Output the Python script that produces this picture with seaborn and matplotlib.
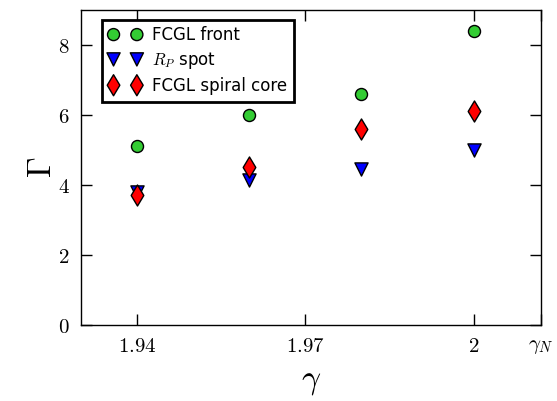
import matplotlib
matplotlib.use("Agg")
import matplotlib.pyplot as plt
import pandas as pd
import seaborn as sns

gamma = [1.94, 1.96, 1.98, 2.00]
front = [5.1, 6.0, 6.6, 8.4]
rp_spot = [3.8, 4.15, 4.45, 5.0]
spiral_core = [3.7, 4.5, 5.6, 6.1]
xtick_pos = [1.94, 1.97, 2.00, 2.012]
xtick_labels = [r"$1.94$", r"$1.97$", r"$2$", r"$\gamma_N$"]
ytick_pos = [0, 2, 4, 6, 8]

sns.set_style("white")
plt.rcParams["font.family"] = ["DejaVu Sans"]
plt.rcParams["mathtext.fontset"] = "cm"
plt.rcParams["text.color"] = "black"
plt.rcParams["axes.labelcolor"] = "black"

fig = plt.figure(figsize=(5.57, 4.01), dpi=100)
ax = fig.add_axes([0.145, 0.19, 0.826, 0.785])

df = pd.DataFrame({"gamma": gamma, "front": front, "rp": rp_spot, "core": spiral_core})
sns.scatterplot(data=df, x="gamma", y="front", ax=ax, marker="o", s=75,
                color="#33cc33", edgecolor="black", linewidth=1, label="FCGL front")
sns.scatterplot(data=df, x="gamma", y="rp", ax=ax, marker="v", s=90,
                color="#0000ff", edgecolor="black", linewidth=1, label=r"$R_P$ spot")
sns.scatterplot(data=df, x="gamma", y="core", ax=ax, marker="d", s=115,
                color="#ff0000", edgecolor="black", linewidth=1, label="FCGL spiral core")

ax.set_xlim(1.93, 2.012)
ax.set_ylim(0, 9)
ax.set_xticks(xtick_pos)
ax.set_xticklabels(xtick_labels)
ax.set_yticks(ytick_pos)
ax.set_yticklabels([rf"${v}$" for v in ytick_pos])
ax.tick_params(direction="in", length=8, width=1, top=True, right=True,
               bottom=True, left=True, labelsize=15, pad=8, colors="black")
for sp in ax.spines.values():
    sp.set_color("black")
    sp.set_linewidth(1)

ax.set_xlabel(r"$\gamma$", fontsize=24, labelpad=6)
ax.set_ylabel(r"$\Gamma$", fontsize=24, labelpad=0)

leg = ax.legend(loc="upper left", scatterpoints=2, scatteryoffsets=[0.5],
                fontsize=12, frameon=True, fancybox=False, handlelength=2.0,
                handletextpad=0.6, borderpad=0.4, labelspacing=0.35,
                bbox_to_anchor=(0.035, 0.985), borderaxespad=0.3)
leg.get_frame().set_edgecolor("black")
leg.get_frame().set_linewidth(2)
leg.get_frame().set_alpha(1)
for t in leg.get_texts():
    t.set_color("black")

fig.savefig("out.png", dpi=100)
